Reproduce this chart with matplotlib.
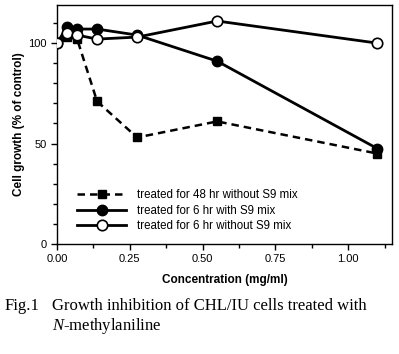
import matplotlib
matplotlib.use("Agg")
import matplotlib.pyplot as plt
from matplotlib.ticker import MultipleLocator

conc = [0.0, 0.034, 0.069, 0.1375, 0.275, 0.55, 1.1]
sq_48h = [100, 103, 102, 71, 53, 61, 45]
fc_6h_s9 = [100, 108, 107, 107, 104, 91, 47.5]
oc_6h_no = [100, 105, 104, 102, 103, 111, 100]
labels = ["treated for 48 hr without S9 mix",
          "treated for 6 hr with S9 mix",
          "treated for 6 hr without S9 mix"]
xticks = [0.0, 0.25, 0.5, 0.75, 1.0]
yticks = [0, 50, 100]

plt.rcParams['font.family'] = ['Liberation Sans', 'DejaVu Sans']
plt.rcParams['mathtext.fontset'] = 'custom'
plt.rcParams['mathtext.it'] = 'Liberation Serif:italic'
plt.rcParams['mathtext.rm'] = 'Liberation Serif'
fig = plt.figure(figsize=(3.99, 3.54), dpi=100)
ax = fig.add_axes([0.143, 0.311, 0.839, 0.675])

ax.plot(conc, sq_48h, color='black', lw=1.8, ls=(0, (3, 2)), marker='s', ms=6,
        mfc='black', mec='black', label=labels[0], zorder=3)
ax.plot(conc, fc_6h_s9, color='black', lw=2.0, marker='o', ms=7.5,
        mfc='black', mec='black', label=labels[1], zorder=4)
ax.plot(conc, oc_6h_no, color='black', lw=2.0, marker='o', ms=7.5,
        mfc='white', mec='black', mew=1.2, label=labels[2], zorder=5)

ax.set_xlim(0, 1.15)
ax.set_ylim(0, 119)
ax.set_xticks(xticks)
ax.set_xticklabels([f"{v:.2f}" for v in xticks])
ax.set_yticks(yticks)
ax.xaxis.set_minor_locator(MultipleLocator(0.125))
ax.yaxis.set_minor_locator(MultipleLocator(10))
ax.tick_params(which='major', direction='out', length=4, width=1, labelsize=8)
ax.tick_params(which='minor', direction='out', length=3, width=1)
for s in ax.spines.values():
    s.set_linewidth(1.0)
ax.set_xlabel("Concentration (mg/ml)", fontsize=8.5, fontweight='bold', labelpad=7)
ax.set_ylabel("Cell growth (% of control)", fontsize=8.5, fontweight='bold', labelpad=2)

leg = ax.legend(loc='lower left', bbox_to_anchor=(0.03, 0.005), frameon=False,
                fontsize=8.3, handlelength=4.2, labelspacing=0.3, handletextpad=1.0)

fig.text(0.012, 0.125, "Fig.1", family='Liberation Serif', fontsize=12)
fig.text(0.13, 0.125, "Growth inhibition of CHL/IU cells treated with",
         family='Liberation Serif', fontsize=12)
fig.text(0.13, 0.068, r"$\mathit{N}$-methylaniline", family='Liberation Serif', fontsize=12)

fig.savefig("out.png", dpi=100)
